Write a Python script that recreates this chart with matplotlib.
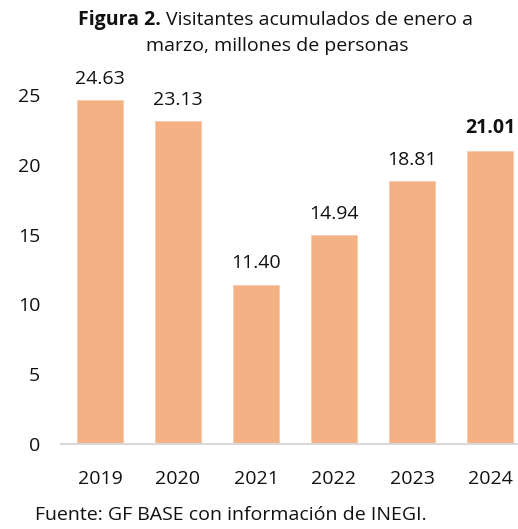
import matplotlib.pyplot as plt

# datos de la figura
years = ["2019", "2020", "2021", "2022", "2023", "2024"]
visitors = [24.63, 23.13, 11.40, 14.94, 18.81, 21.01]
labels = ["24.63", "23.13", "11.40", "14.94", "18.81", "21.01"]

plt.rcParams['font.family'] = ['Open Sans', 'DejaVu Sans']
FS = 14
TXT = "#111111"

fig = plt.figure(figsize=(5.18, 5.29), dpi=100)
ax = fig.add_axes([61 / 518, 1 - 444 / 529, (518 - 61) / 518, (444 - 95) / 529])

x = list(range(len(years)))
bars = ax.bar(x, visitors, width=0.58, color="#F4B183", edgecolor="#F8CBAD", linewidth=0.6)

for i, (b, lab) in enumerate(zip(bars, labels)):
    ax.annotate(lab, (b.get_x() + b.get_width() / 2, b.get_height()),
                xytext=(0, 9), textcoords="offset points", ha="center", va="bottom",
                fontsize=FS, color=TXT,
                fontweight="bold" if i == len(years) - 1 else "normal")

ax.set_ylim(0, 25)
ax.set_xlim(-0.5, 5.5 - 11 / 78)
ax.set_yticks([0, 5, 10, 15, 20, 25])
ax.set_xticks(x)
ax.set_xticklabels(years)
ax.tick_params(axis="y", length=0, pad=15, labelsize=FS, colors=TXT)
ax.tick_params(axis="x", length=0, pad=19, labelsize=FS, colors=TXT)
for s in ["top", "right", "left"]:
    ax.spines[s].set_visible(False)
ax.spines["bottom"].set_color("#D9D9D9")
ax.spines["bottom"].set_linewidth(1.5)

# titulo: "Figura 2." en negrita y el resto normal
t1 = fig.text(78 / 518, 1 - 20 / 529, "Figura 2.", ha="left", va="center",
              fontsize=FS, fontweight="bold", color=TXT)
fig.canvas.draw()
bb = t1.get_window_extent()
fig.text((bb.x1 + 5) / 518, 1 - 20 / 529, "Visitantes acumulados de enero a",
         ha="left", va="center", fontsize=FS, color=TXT)
fig.text(277 / 518, 1 - 46 / 529, "marzo, millones de personas",
         ha="center", va="center", fontsize=FS, color=TXT)

fig.text(35 / 518, 1 - 515 / 529, "Fuente: GF BASE con información de INEGI.",
         ha="left", va="center", fontsize=FS, color=TXT)

fig.savefig("out.png", dpi=100)
